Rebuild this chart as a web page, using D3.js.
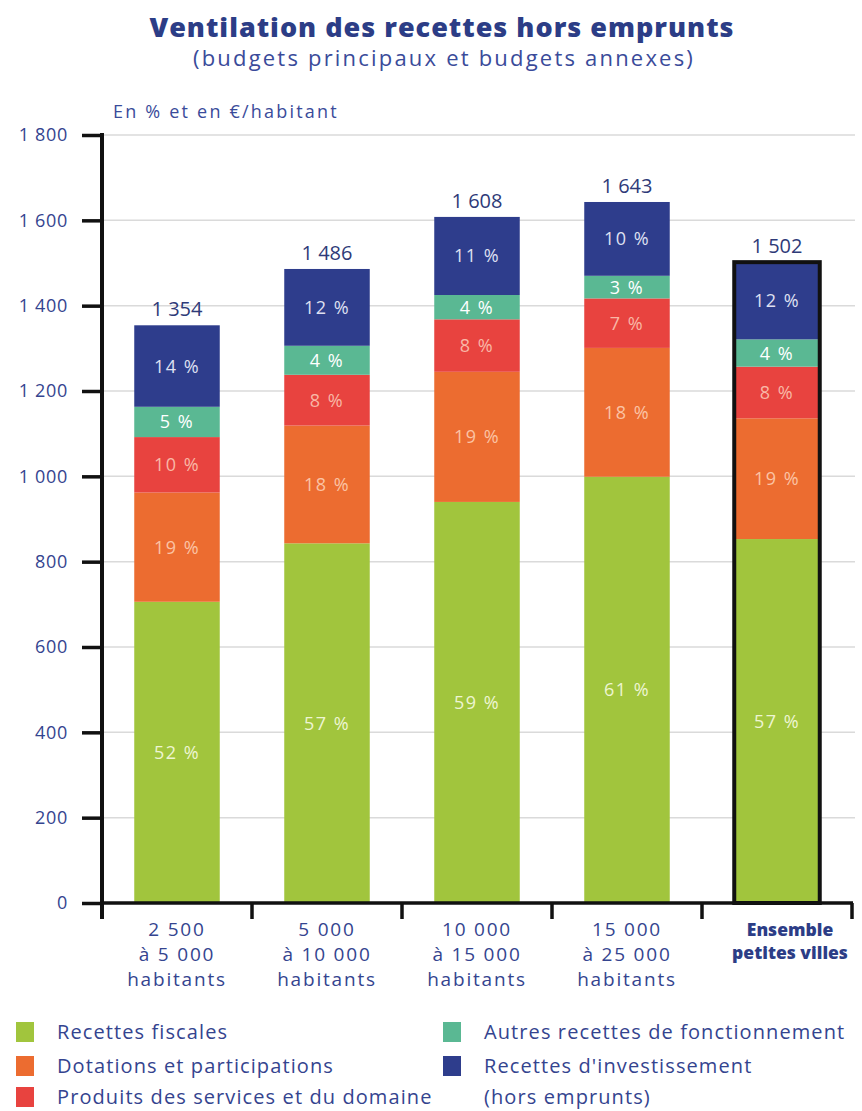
<!DOCTYPE html>
<html>
<head>
<meta charset="utf-8">
<script src="https://cdn.jsdelivr.net/npm/d3@7"></script>
<style>
  body { margin: 0; background: #fff; }
  svg { display: block; font-family: "Open Sans", sans-serif; }
</style>
</head>
<body>
<svg id="chart" width="862" height="1111"></svg>
<script>
// categories (x axis), each label split on lines
var categories = [
  ["2 500", "à 5 000", "habitants"],
  ["5 000", "à 10 000", "habitants"],
  ["10 000", "à 15 000", "habitants"],
  ["15 000", "à 25 000", "habitants"],
  ["Ensemble", "petites villes"]
];
var totals = [1354, 1486, 1608, 1643, 1502];

// €/habitant per component
var recettesFiscales = [706, 843, 940, 999, 853];
var dotations        = [256, 276, 305, 302, 283];
var produits         = [130, 119, 123, 116, 121];
var autres           = [71, 68, 57, 53, 64];
var investissement   = [191, 180, 183, 173, 181];

// printed percentages
var pctFiscales = [52, 57, 59, 61, 57];
var pctDotations = [19, 18, 19, 18, 19];
var pctProduits = [10, 8, 8, 7, 8];
var pctAutres = [5, 4, 4, 3, 4];
var pctInvest = [14, 12, 11, 10, 12];

var yTicks = [0, 200, 400, 600, 800, 1000, 1200, 1400, 1600, 1800];

var series = [
  { name: "Recettes fiscales", values: recettesFiscales, pct: pctFiscales, color: "#a1c53d", text: "#eef5d2" },
  { name: "Dotations et participations", values: dotations, pct: pctDotations, color: "#ec6c30", text: "#fbc3a4" },
  { name: "Produits des services et du domaine", values: produits, pct: pctProduits, color: "#e8433f", text: "#f9b7a6" },
  { name: "Autres recettes de fonctionnement", values: autres, pct: pctAutres, color: "#5ab893", text: "#ffffff" },
  { name: "Recettes d'investissement", values: investissement, pct: pctInvest, color: "#2e3d8c", text: "#dfe0f2" }
];

var svg = d3.select("#chart");
var textColor = "#34448f";

var x = d3.scaleBand()
  .domain(d3.range(categories.length))
  .range([102, 852])
  .paddingInner(0.43)
  .paddingOuter(0.215);

var y = d3.scaleLinear().domain([0, 1800]).range([903, 135]);

// title
svg.append("text").attr("x", 442).attr("y", 37)
  .attr("text-anchor", "middle").attr("font-size", 27).attr("font-weight", 800)
  .attr("letter-spacing", 1).attr("fill", "#2c3d86").text("Ventilation des recettes hors emprunts");
svg.append("text").attr("x", 444).attr("y", 66)
  .attr("text-anchor", "middle").attr("font-size", 22).attr("letter-spacing", 2.2)
  .attr("fill", "#3a4b9a").text("(budgets principaux et budgets annexes)");
svg.append("text").attr("x", 113).attr("y", 118)
  .attr("font-size", 18).attr("letter-spacing", 2.2)
  .attr("fill", "#3a4b9a").text("En % et en €/habitant");

// gridlines
svg.append("g").selectAll("line").data(yTicks.slice(1)).enter().append("line")
  .attr("x1", 104).attr("x2", 855)
  .attr("y1", function(d) { return y(d); }).attr("y2", function(d) { return y(d); })
  .attr("stroke", "#dadada").attr("stroke-width", 1.5);

// stacked bars
var stack = d3.stack().keys(d3.range(series.length))
  .value(function(i, k) { return series[k].values[i]; });
var layers = stack(d3.range(categories.length));

var layer = svg.append("g").selectAll("g").data(layers).enter().append("g")
  .attr("fill", function(d, k) { return series[k].color; });

layer.selectAll("rect").data(function(d) { return d; }).enter().append("rect")
  .attr("x", function(d, i) { return x(i); })
  .attr("width", x.bandwidth())
  .attr("y", function(d) { return y(d[1]); })
  .attr("height", function(d) { return y(d[0]) - y(d[1]); });

// percent labels
layers.forEach(function(l, k) {
  svg.append("g").selectAll("text").data(l).enter().append("text")
    .attr("x", function(d, i) { return x(i) + x.bandwidth() / 2; })
    .attr("y", function(d) { return (y(d[0]) + y(d[1])) / 2; })
    .attr("dy", "0.36em")
    .attr("text-anchor", "middle")
    .attr("font-size", 18)
    .attr("letter-spacing", 1.5)
    .attr("fill", series[k].text)
    .text(function(d, i) { return series[k].pct[i] + " %"; });
});

// highlight border on the last bar
var last = categories.length - 1;
svg.append("rect")
  .attr("x", x(last)).attr("width", x.bandwidth())
  .attr("y", y(totals[last])).attr("height", y(0) - y(totals[last]))
  .attr("fill", "none").attr("stroke", "#111").attr("stroke-width", 4);

// totals above bars
svg.append("g").selectAll("text").data(totals).enter().append("text")
  .attr("x", function(d, i) { return x(i) + x.bandwidth() / 2; })
  .attr("y", function(d) { return y(d) - 9; })
  .attr("text-anchor", "middle").attr("font-size", 20).attr("fill", "#2e3a78")
  .text(function(d) { return d3.format(",")(d).replace(",", " "); });

// y axis
var yAxis = d3.axisLeft(y).tickValues(yTicks).tickSize(20).tickPadding(14)
  .tickFormat(function(d) { return d3.format(",")(d).replace(",", " "); });
var gy = svg.append("g").attr("transform", "translate(102,0)").call(yAxis);
gy.select(".domain").remove();
gy.selectAll(".tick line").attr("stroke", "#111").attr("stroke-width", 3.5);
gy.selectAll(".tick text").attr("font-size", 18).attr("letter-spacing", 0.7)
  .attr("fill", textColor).attr("font-family", "Open Sans, sans-serif");
svg.append("line").attr("x1", 102).attr("x2", 102).attr("y1", y(1800) - 2).attr("y2", 919)
  .attr("stroke", "#111").attr("stroke-width", 4);

// x axis with ticks at band boundaries
svg.append("line").attr("x1", 100).attr("x2", 853).attr("y1", y(0)).attr("y2", y(0))
  .attr("stroke", "#111").attr("stroke-width", 3.5);
var bounds = d3.range(categories.length + 1).map(function(i) { return 102 + i * x.step(); });
svg.append("g").selectAll("line").data(bounds.slice(1)).enter().append("line")
  .attr("x1", function(d) { return d; }).attr("x2", function(d) { return d; })
  .attr("y1", y(0)).attr("y2", 919)
  .attr("stroke", "#111").attr("stroke-width", 3.5);

// category labels (the bold summary label sits a bit to the right)
var xl = svg.append("g").selectAll("text").data(categories).enter().append("text")
  .attr("x", function(d, i) { return x(i) + x.bandwidth() / 2 + (i === last ? 13 : 0); })
  .attr("y", 936)
  .attr("text-anchor", "middle")
  .attr("font-size", function(d, i) { return i === last ? 17.5 : 19; })
  .attr("letter-spacing", function(d, i) { return i === last ? 0 : 1.8; })
  .attr("font-weight", function(d, i) { return i === last ? 800 : 400; })
  .attr("fill", function(d, i) { return i === last ? "#2c3d86" : textColor; });
xl.selectAll("tspan").data(function(d) { return d; }).enter().append("tspan")
  .attr("x", function() { return d3.select(this.parentNode).attr("x"); })
  .attr("dy", function(d, j) { return j === 0 ? 0 : "1.32em"; })
  .text(function(d) { return d; });

// legend
var legendPos = [[16, 1032], [16, 1066], [16, 1097], [443, 1032], [443, 1066]];
var lg = svg.append("g").selectAll("g").data(series).enter().append("g")
  .attr("transform", function(d, k) { return "translate(" + legendPos[k][0] + "," + legendPos[k][1] + ")"; });
lg.append("rect").attr("x", 0).attr("y", -10).attr("width", 18).attr("height", 20)
  .attr("fill", function(d) { return d.color; });
lg.append("text").attr("x", 41).attr("dy", "0.34em").attr("font-size", 20).attr("letter-spacing", 1.1)
  .attr("fill", textColor).text(function(d) { return d.name; });
svg.append("text").attr("x", 484).attr("y", 1097).attr("dy", "0.34em")
  .attr("font-size", 20).attr("letter-spacing", 1.1).attr("fill", textColor).text("(hors emprunts)");
</script>
</body>
</html>
